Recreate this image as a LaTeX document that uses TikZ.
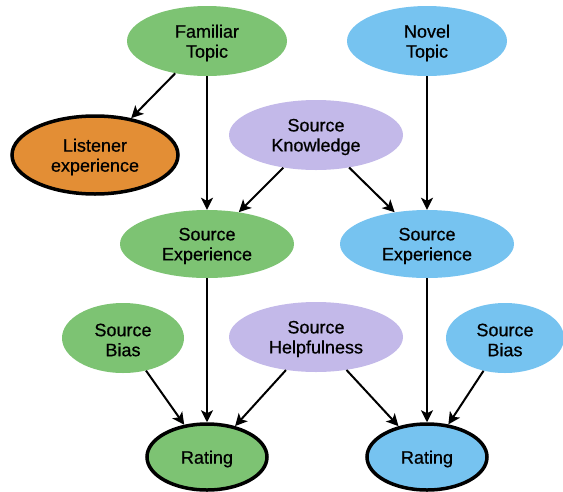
\documentclass[tikz,border=0pt]{standalone}
\usepackage{fontspec}
\setmainfont{Liberation Sans}
\newfontfamily\lblfont{Liberation Sans}[FakeBold=0.6]
\usetikzlibrary{shapes.geometric,arrows.meta}
\definecolor{cgreen}{HTML}{7DC373}
\definecolor{cblue}{HTML}{76C3F0}
\definecolor{cpurple}{HTML}{C3B9E9}
\definecolor{corange}{HTML}{E38E35}
\tikzset{
  ov/.style={ellipse, draw=none, inner sep=0pt, minimum width=#1},
  ov/.default=160pt,
  thickov/.style={ellipse, draw=black, line width=3.5pt, inner sep=0pt},
  lbl/.style={align=center, font=\lblfont\addfontfeature{FakeBold=0.6}\fontsize{18}{20}\selectfont, inner sep=0pt, yshift=-2pt},
  arr/.style={line width=2pt, -{Stealth[length=12pt,width=12pt,inset=3pt]}}
}
\begin{document}
\begin{tikzpicture}[x=1pt,y=-1pt]
\useasboundingbox (0,0) rectangle (563,491);
% nodes
\node[ov=160pt, minimum height=70pt, fill=cgreen] (ft) at (207,41) {};
\node[ov=160pt, minimum height=70pt, fill=cblue] (nt) at (427,41) {};
\node[thickov, minimum width=166pt, minimum height=78pt, fill=corange] (le) at (95,155) {};
\node[ov=174pt, minimum height=70pt, fill=cpurple] (sk) at (316,135) {};
\node[ov=174pt, minimum height=68pt, fill=cgreen] (sel) at (207,244) {};
\node[ov=174pt, minimum height=68pt, fill=cblue] (ser) at (427,244) {};
\node[ov=122pt, minimum height=70pt, fill=cgreen] (sbl) at (123,338) {};
\node[ov=174pt, minimum height=70pt, fill=cpurple] (sh) at (316,337) {};
\node[ov=118pt, minimum height=70pt, fill=cblue] (sbr) at (505,338) {};
\node[thickov, minimum width=120pt, minimum height=66pt, fill=cgreen] (rl) at (207,457) {};
\node[thickov, minimum width=120pt, minimum height=66pt, fill=cblue] (rr) at (427,457) {};
% labels
\node[lbl] at (ft) {Familiar\\Topic};
\node[lbl] at (nt) {Novel\\Topic};
\node[lbl] at (le) {Listener\\experience};
\node[lbl] at (sk) {Source\\Knowledge};
\node[lbl] at (sel) {Source\\Experience};
\node[lbl] at (ser) {Source\\Experience};
\node[lbl] at (sbl) {Source\\Bias};
\node[lbl] at (sh) {Source\\Helpfulness};
\node[lbl] at (sbr) {Source\\Bias};
\node[lbl] at (rl) {Rating};
\node[lbl] at (rr) {Rating};
% edges
\draw[arr] (ft) -- (le);
\draw[arr] (ft) -- (sel);
\draw[arr] (sk) -- (sel);
\draw[arr] (sk) -- (ser);
\draw[arr] (nt) -- (ser);
\draw[arr] (sel) -- (rl);
\draw[arr] (sbl) -- (rl);
\draw[arr] (sh) -- (rl);
\draw[arr] (sh) -- (rr);
\draw[arr] (ser) -- (rr);
\draw[arr] (sbr) -- (rr);
\end{tikzpicture}
\end{document}
